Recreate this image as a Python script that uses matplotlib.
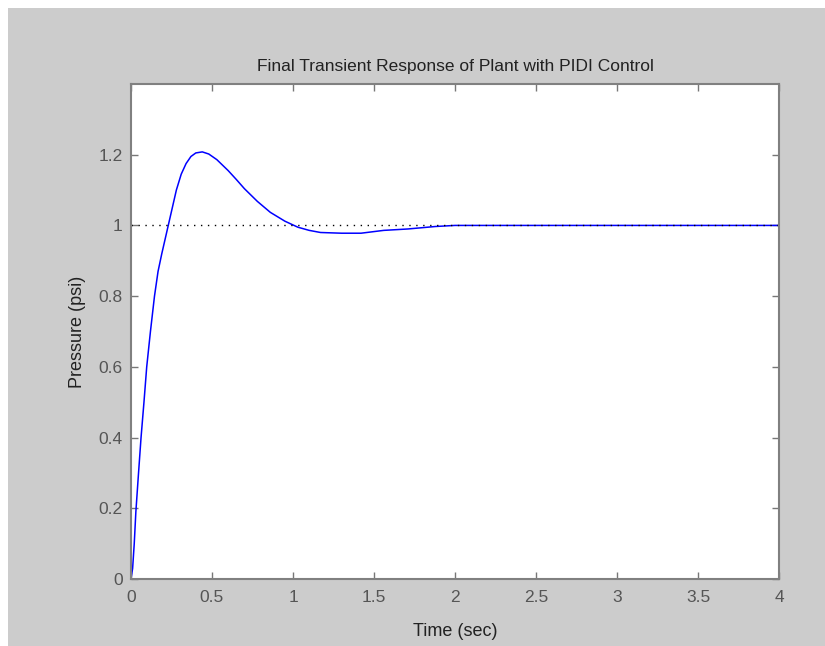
import numpy as np
import matplotlib
matplotlib.use('Agg')
import matplotlib.pyplot as plt
from matplotlib.patches import Rectangle

# step response
t = [0, 0.01, 0.02, 0.03, 0.045, 0.062, 0.08, 0.097, 0.12, 0.145, 0.167, 0.19, 0.23,
     0.26, 0.28, 0.31, 0.34, 0.37, 0.40, 0.44, 0.48, 0.53, 0.60, 0.65, 0.70, 0.78, 0.86,
     0.95, 1.03, 1.10, 1.17, 1.30, 1.42, 1.56, 1.71, 1.88, 2.0, 2.5, 3.0, 3.5, 4.0]
p = [0, 0.03, 0.10, 0.19, 0.29, 0.40, 0.50, 0.60, 0.70, 0.80, 0.87, 0.92, 1.00,
     1.06, 1.10, 1.145, 1.175, 1.195, 1.205, 1.208, 1.202, 1.186, 1.155, 1.130, 1.104,
     1.068, 1.037, 1.012, 0.995, 0.986, 0.980, 0.978, 0.978, 0.986, 0.990, 0.997,
     1.0, 1.0, 1.0, 1.0, 1.0]

xticks = [0, 0.5, 1, 1.5, 2, 2.5, 3, 3.5, 4]
xtick_labels = ['0', '0.5', '1', '1.5', '2', '2.5', '3', '3.5', '4']
yticks = [0, 0.2, 0.4, 0.6, 0.8, 1, 1.2]
ytick_labels = ['0', '0.2', '0.4', '0.6', '0.8', '1', '1.2']

plt.rcParams['font.family'] = ['Liberation Sans', 'DejaVu Sans']

fig = plt.figure(figsize=(8.25, 6.46), dpi=100)
fig.patch.set_facecolor('white')
fig.patches.append(Rectangle((8/825, 0), 1, 1 - 8/646, transform=fig.transFigure,
                             facecolor='#cccccc', edgecolor='none', zorder=-10))

ax = fig.add_axes([131/825, 1 - 579/646, (779-131)/825, (579-84)/646])
ax.set_facecolor('white')
ax.plot(t, p, color='#0000ff', lw=1.1)
ax.plot([0, 4], [1, 1], color='black', lw=1, linestyle=(0, (1, 4)))

ax.set_xlim(0, 4)
ax.set_ylim(0, 1.4)
ax.set_xticks(xticks)
ax.set_xticklabels(xtick_labels)
ax.set_yticks(yticks)
ax.set_yticklabels(ytick_labels)
ax.tick_params(direction='in', length=5, width=1, color='#777777',
               labelcolor='#555555', labelsize=12.5, top=True, right=True)
ax.tick_params(axis='x', pad=8)
ax.tick_params(axis='y', pad=6)
for s in ax.spines.values():
    s.set_color('#808080')
    s.set_linewidth(1.5)

ax.set_title('Final Transient Response of Plant with PIDI Control',
             fontsize=12.5, color='#222222', pad=9)
ax.set_xlabel('Time (sec)', fontsize=13, color='#222222', labelpad=13)
ax.set_ylabel('Pressure (psi)', fontsize=13, color='#222222', labelpad=9)

fig.savefig('out.png', dpi=100, facecolor=fig.get_facecolor())
